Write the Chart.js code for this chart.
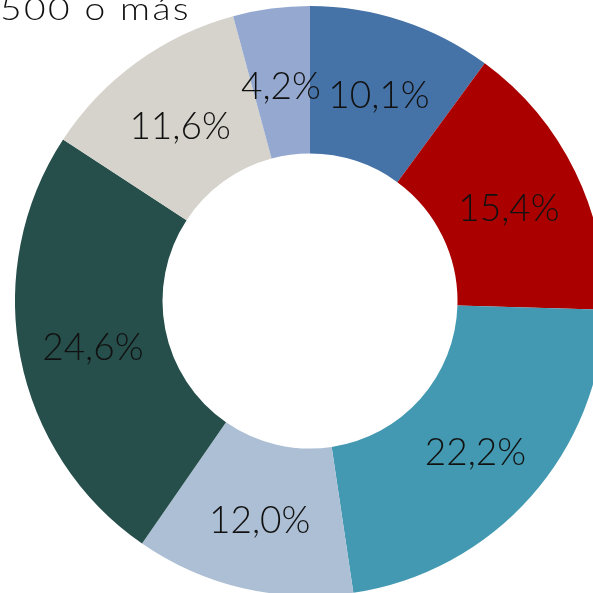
<!DOCTYPE html>
<html>
<head>
<meta charset="utf-8">
<script src="https://cdn.jsdelivr.net/npm/chart.js@4/dist/chart.umd.min.js"></script>
<style>
  html, body { margin: 0; padding: 0; background: #fff; overflow: hidden; width: 593px; height: 593px; }
  #wrap { position: absolute; left: 15px; top: 6px; width: 590px; height: 590px; }
  #legendText { position: absolute; left: 0px; top: -11px; font-family: Lato, 'DejaVu Sans', sans-serif; font-weight: 300; font-size: 31px; letter-spacing: 2px; color: #111; white-space: nowrap; transform: scaleX(1.2); transform-origin: left top; }
</style>
</head>
<body>
<div id="wrap"><canvas id="chart" width="590" height="590"></canvas></div>
<div id="legendText">500 o más</div>
<script>
// slice values (percent), clockwise from the top
const shares = [10.1, 15.4, 22.2, 12.0, 24.6, 11.6, 4.2];
const sliceColors = ['#4673A7', '#AA0000', '#4399B1', '#ADBFD4', '#264F4C', '#D5D3CB', '#95A9D0'];

// writes the percentage in the middle of each slice
const sliceLabels = {
  id: 'sliceLabels',
  afterDatasetsDraw: (chart) => {
    const ctx = chart.ctx;
    const meta = chart.getDatasetMeta(0);
    ctx.save();
    ctx.font = '300 37px Lato, "DejaVu Sans", sans-serif';
    ctx.fillStyle = '#111';
    ctx.textAlign = 'center';
    ctx.textBaseline = 'middle';
    meta.data.forEach((arc, i) => {
      const p = arc.getProps(['x', 'y', 'startAngle', 'endAngle', 'innerRadius', 'outerRadius'], true);
      const a = (p.startAngle + p.endAngle) / 2;
      const r = (p.innerRadius + p.outerRadius) / 2;
      const txt = shares[i].toFixed(1).replace('.', ',') + '%';
      ctx.fillText(txt, p.x + Math.cos(a) * r, p.y + Math.sin(a) * r + 5);
    });
    ctx.restore();
  }
};

new Chart(document.getElementById('chart'), {
  type: 'doughnut',
  data: {
    labels: shares.map((s) => s.toFixed(1)),
    datasets: [{
      data: shares,
      backgroundColor: sliceColors,
      borderWidth: 0
    }]
  },
  options: {
    responsive: false,
    animation: false,
    cutout: '50%',
    layout: { padding: 0 },
    plugins: {
      legend: { display: false },
      tooltip: { enabled: false }
    }
  },
  plugins: [sliceLabels]
});
</script>
</body>
</html>
